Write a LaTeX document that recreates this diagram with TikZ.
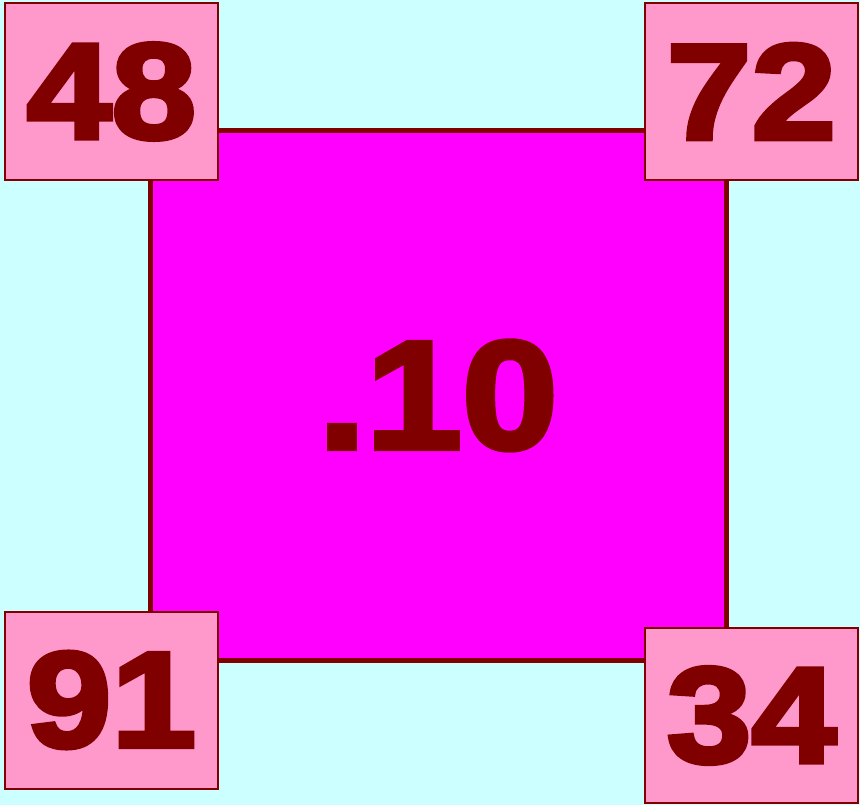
\documentclass[tikz,border=0pt]{standalone}
\usepackage{fontspec}
\setmainfont{Liberation Sans}
\usepackage{xcolor}
\usepackage{tikz}
\usetikzlibrary{positioning}
\definecolor{sky}{HTML}{CCFFFF}
\definecolor{plate}{HTML}{FF00FF}
\definecolor{tag}{HTML}{FF99CC}
\definecolor{ink}{HTML}{800000}
\newfontfamily\heavy[FakeBold=3.5, FakeStretch=1.12]{Liberation Sans Bold}

\begin{document}
\begin{tikzpicture}[
	  x=1pt, y=-1pt,
	    plate/.style={draw=ink, line width=5pt, fill=plate, minimum width=576pt, minimum height=529pt, inner sep=0pt, text=ink, font=\heavy\fontsize{154}{154}\selectfont},
	      tag/.style={draw=ink, line width=2pt, fill=tag, minimum width=213pt, minimum height=177pt, inner sep=0pt, text=ink, font=\heavy\fontsize{136}{136}\selectfont}
	      ]
	      % background
	      \fill[sky] (0,0) rectangle (860,805);
	      \useasboundingbox (0,0) rectangle (860,805);
	      % centre square
	      \node[plate] (mid) at (438,395.5) {.10};
	      % corner tags
	      \node[tag] (nw) at (111.5,91.5) {48};
	      \node[tag] (ne) at (751.5,91.5) {72};
	      \node[tag] (sw) at (111.5,700) {91};
	      \node[tag, minimum height=175pt] (se) at (751.5,715.5) {34};
	      \end{tikzpicture}
\end{document}
